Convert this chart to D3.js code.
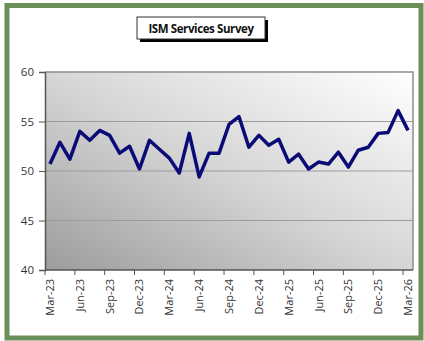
<!DOCTYPE html>
<html>
<head>
<meta charset="utf-8">
<script src="https://cdn.jsdelivr.net/npm/d3@7"></script>
<style>
  html, body { margin: 0; padding: 0; background: #ffffff; }
  svg { display: block; }
</style>
</head>
<body>
<svg id="chart" width="424" height="341"></svg>
<script>
const months = ["Mar-23","Apr-23","May-23","Jun-23","Jul-23","Aug-23","Sep-23","Oct-23","Nov-23","Dec-23",
  "Jan-24","Feb-24","Mar-24","Apr-24","May-24","Jun-24","Jul-24","Aug-24","Sep-24","Oct-24","Nov-24","Dec-24",
  "Jan-25","Feb-25","Mar-25","Apr-25","May-25","Jun-25","Jul-25","Aug-25","Sep-25","Oct-25","Nov-25","Dec-25",
  "Jan-26","Feb-26","Mar-26"];
const ismValues = [50.7, 52.9, 51.2, 54.0, 53.1, 54.1, 53.6, 51.8, 52.5, 50.2,
  53.1, 52.2, 51.3, 49.8, 53.8, 49.4, 51.8, 51.8, 54.7, 55.5, 52.4, 53.6,
  52.6, 53.2, 50.9, 51.7, 50.2, 50.9, 50.7, 51.9, 50.4, 52.1, 52.4, 53.8,
  53.9, 56.1, 54.1];
const yTicks = [40, 45, 50, 55, 60];
const xLabels = ["Mar-23","Jun-23","Sep-23","Dec-23","Mar-24","Jun-24","Sep-24","Dec-24",
  "Mar-25","Jun-25","Sep-25","Dec-25","Mar-26"];
const titleText = "ISM Services Survey";

const svg = d3.select("#chart");
const L = 45, R = 413, T = 72, B = 270;

// outer green frame
svg.append("rect").attr("x", 7).attr("y", 5.5).attr("width", 414).attr("height", 332.5)
  .attr("fill", "#ffffff").attr("stroke", "#6b8f58").attr("stroke-width", 5);

// gradient
const defs = svg.append("defs");
const grad = defs.append("linearGradient").attr("id", "bg")
  .attr("x1", "0").attr("y1", "1").attr("x2", "1").attr("y2", "0");
grad.append("stop").attr("offset", "0%").attr("stop-color", "#9c9c9c");
grad.append("stop").attr("offset", "50%").attr("stop-color", "#d6d6d6");
grad.append("stop").attr("offset", "100%").attr("stop-color", "#ffffff");

const x = d3.scaleBand().domain(months).range([L, R]).padding(0);
const y = d3.scaleLinear().domain([40, 60]).range([B, T]);

svg.append("rect").attr("x", L).attr("y", T).attr("width", R - L).attr("height", B - T)
  .attr("fill", "url(#bg)");

// gridlines
svg.append("g").selectAll("line").data(yTicks.filter(d => d > 40 && d < 60)).join("line")
  .attr("x1", L).attr("x2", R).attr("y1", d => y(d)).attr("y2", d => y(d))
  .attr("stroke", "#9c9c9c").attr("stroke-width", 1);

// plot border top/right
svg.append("path").attr("d", `M${L},${T}H${R}V${B}`).attr("fill", "none")
  .attr("stroke", "#8e8e8e").attr("stroke-width", 1.5);

// y axis
const yAxis = d3.axisLeft(y).tickValues(yTicks).tickSize(6).tickPadding(5);
const gy = svg.append("g").attr("transform", `translate(${L},0)`).call(yAxis);
gy.select(".domain").attr("stroke", "#555").attr("stroke-width", 1.5);
gy.selectAll(".tick line").attr("stroke", "#555");
gy.selectAll("text").attr("font-family", "'Open Sans', 'Liberation Sans', sans-serif")
  .attr("font-size", 11.5).attr("fill", "#333");

// x axis
const gx = svg.append("g").attr("transform", `translate(0,${B})`);
gx.append("line").attr("x1", L).attr("x2", R).attr("y1", 0).attr("y2", 0)
  .attr("stroke", "#555").attr("stroke-width", 1.5);
gx.selectAll("line.tk").data(xLabels).join("line").attr("class", "tk")
  .attr("x1", d => x(d)).attr("x2", d => x(d)).attr("y1", 0).attr("y2", 5)
  .attr("stroke", "#555");
gx.selectAll("text").data(xLabels).join("text")
  .attr("transform", d => `translate(${x(d) + x.bandwidth() / 2 + 4},9) rotate(-90)`)
  .attr("text-anchor", "end")
  .attr("font-family", "'Open Sans', 'Liberation Sans', sans-serif")
  .attr("font-size", 11).attr("fill", "#333")
  .text(d => d);

// line
const line = d3.line().x((d, i) => x(months[i]) + x.bandwidth() / 2).y(d => y(d));
svg.append("path").datum(ismValues).attr("d", line).attr("fill", "none")
  .attr("stroke", "#0b0b78").attr("stroke-width", 3.5).attr("stroke-linejoin", "round");

// title box with shadow
svg.append("rect").attr("x", 140).attr("y", 20).attr("width", 128).attr("height", 22).attr("fill", "#000");
svg.append("rect").attr("x", 137).attr("y", 17).attr("width", 128).attr("height", 22)
  .attr("fill", "#fff").attr("stroke", "#333").attr("stroke-width", 1);
svg.append("text").attr("x", 201).attr("y", 32.5).attr("text-anchor", "middle")
  .attr("font-family", "'Open Sans', 'Liberation Sans', sans-serif").attr("font-weight", "bold")
  .attr("font-size", 11.5).attr("letter-spacing", -0.4).attr("fill", "#111").text(titleText);
</script>
</body>
</html>
